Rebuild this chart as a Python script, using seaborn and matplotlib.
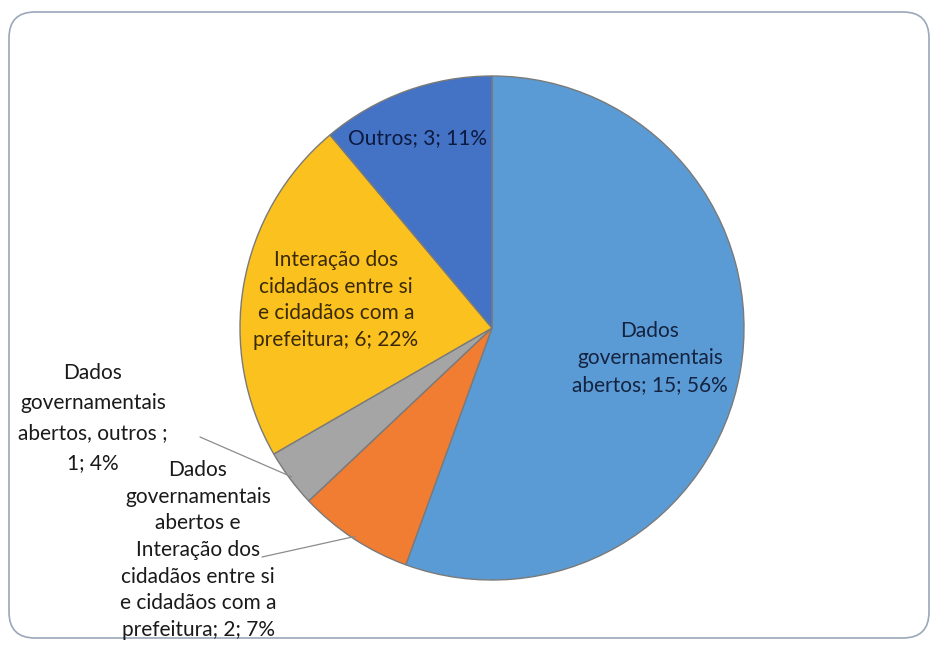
import matplotlib
matplotlib.use("Agg")
import matplotlib.pyplot as plt
import seaborn as sns
import numpy as np
from matplotlib.patches import FancyBboxPatch

sns.set_theme(style="white")
plt.rcParams['font.family'] = ['Lato', 'DejaVu Sans']

categories = [
    "Dados governamentais abertos",
    "Dados governamentais abertos e Interação dos cidadãos entre si e cidadãos com a prefeitura",
    "Dados governamentais abertos, outros",
    "Interação dos cidadãos entre si e cidadãos com a prefeitura",
    "Outros",
]
values = [15, 2, 1, 6, 3]
percents = [56, 7, 4, 22, 11]
colors = ["#5B9BD5", "#F07D32", "#A5A5A5", "#FBC11F", "#4472C4"]

W, H = 932, 647
fig = plt.figure(figsize=(W / 100, H / 100), dpi=100)
ax = fig.add_axes([0, 0, 1, 1])
ax.set_xlim(0, W)
ax.set_ylim(0, H)
ax.axis("off")

# frame
frame = FancyBboxPatch((9, H - 638), 920, 626,
                       boxstyle="round,pad=0,rounding_size=26",
                       fc="white", ec="#9aa8ba", lw=1.2, zorder=0)
ax.add_patch(frame)

cx, cy, r = 492, H - 328, 252
wedges, _ = ax.pie(values, colors=colors, startangle=90, counterclock=False,
                   center=(cx, cy), radius=r,
                   wedgeprops=dict(edgecolor="#7a7a7a", linewidth=1.0))
for w in wedges:
    w.set_zorder(2)
ax.set_xlim(0, W)
ax.set_ylim(0, H)
ax.set_aspect("equal")

fs = 15
ls_in = 1.42
ls_out = 1.62
txt = "#1a1a1a"

def y(p):
    return H - p

ax.text(650, y(358), "Dados\ngovernamentais\nabertos; 15; 56%", ha="center", va="center",
        fontsize=fs, linespacing=ls_in, color="#14233f", zorder=5)
ax.text(418, y(138), "Outros; 3; 11%", ha="center", va="center",
        fontsize=fs, linespacing=ls_in, color="#0d1a40", zorder=5)
ax.text(336, y(300), "Interação dos\ncidadãos entre si\ne cidadãos com a\nprefeitura; 6; 22%",
        ha="center", va="center", fontsize=fs, linespacing=ls_in, color="#3a2a05", zorder=5)
ax.text(93, y(418), "Dados\ngovernamentais\nabertos, outros ;\n1; 4%",
        ha="center", va="center", fontsize=fs, linespacing=ls_out, color=txt, zorder=5)
ax.text(198, y(550), "Dados\ngovernamentais\nabertos e\nInteração dos\ncidadãos entre si\ne cidadãos com a\nprefeitura; 2; 7%",
        ha="center", va="center", fontsize=fs, linespacing=ls_in, color=txt, zorder=5)

# leader lines from label to slice edge at mid-angle
total = sum(values)
angles = []
start = 90.0
for v in values:
    span = 360.0 * v / total
    angles.append(start - span / 2)
    start -= span

def edge(i, f=0.99):
    a = np.deg2rad(angles[i])
    return cx + f * r * np.cos(a), cy + f * r * np.sin(a)

ex, ey = edge(2)
ax.plot([200, ex], [y(437), ey], color="#8c8c8c", lw=0.9, zorder=4)
ex, ey = edge(1)
ax.plot([262, ex], [y(557), ey], color="#8c8c8c", lw=0.9, zorder=4)

fig.savefig("out.png", dpi=100)
